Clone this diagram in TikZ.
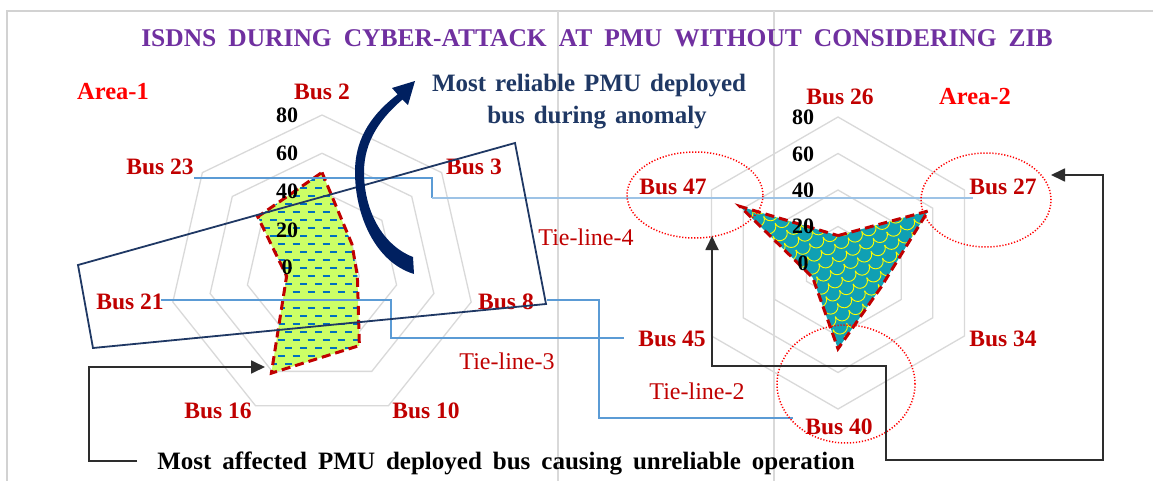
\documentclass[tikz,border=0pt]{standalone}
\usepackage{fontspec}
\setmainfont{Liberation Serif}
\usetikzlibrary{arrows.meta,shapes.geometric}
\definecolor{busred}{RGB}{192,0,0}
\definecolor{areared}{RGB}{255,0,0}
\definecolor{titlepurple}{RGB}{112,48,160}
\definecolor{notenavy}{RGB}{31,56,100}
\definecolor{arrownavy}{RGB}{0,32,96}
\definecolor{boxnavy}{RGB}{31,56,100}
\definecolor{gridgray}{RGB}{217,217,217}
\definecolor{framegray}{RGB}{210,210,210}
\definecolor{tieblue}{RGB}{91,155,213}
\definecolor{tielight}{RGB}{157,195,230}
\definecolor{limefill}{RGB}{204,255,102}
\definecolor{dashblue}{RGB}{0,112,192}
\definecolor{tealfill}{RGB}{16,160,180}
\definecolor{scaleyellow}{RGB}{255,255,0}
\definecolor{conngray}{RGB}{45,45,45}
\newcommand{\mygap}{\hspace{9pt}}
\newcommand{\tgap}{\hspace{12pt}}
\begin{document}
\begin{tikzpicture}[x=1pt,y=-1pt,
  buslbl/.style={text=busred,font=\fontsize{23.5}{26}\selectfont\bfseries,inner sep=0pt},
  arealbl/.style={text=areared,font=\fontsize{24.5}{27}\selectfont\bfseries,inner sep=0pt},
  tielbl/.style={text=busred,font=\fontsize{24}{27}\selectfont,inner sep=0pt},
  axlbl/.style={font=\fontsize{22}{24}\selectfont\bfseries,inner sep=0pt},
  notelbl/.style={font=\fontsize{25}{28}\selectfont\bfseries,inner sep=0pt,anchor=base},
  radargrid/.style={draw=gridgray,line width=1.3pt},
  seriesedge/.style={draw=busred,line width=3pt,dash pattern=on 9pt off 5pt},
  tieline/.style={draw=tieblue,line width=1.6pt},
  hilite/.style={draw=red,ellipse,line width=1.5pt,dash pattern=on 1.2pt off 1.8pt,inner sep=0pt},
  conn/.style={draw=conngray,line width=1.8pt},
  conntip/.tip={Triangle[length=14pt,width=13pt]}
]
\useasboundingbox (0,0) rectangle (1153,481);
\fill[white] (0,0) rectangle (1153,481);
% frame
\draw[framegray,line width=1.5pt] (7,481) -- (7,11) -- (1153,11);
\draw[gridgray,line width=1.3pt] (558,11) -- (558,481);
\draw[gridgray,line width=1.3pt] (774,11) -- (774,481);

% left radar grid (7 axes)
\begin{scope}[shift={(322,268)}]
  \foreach \k in {1,2,3,4}{
    \draw[radargrid] (-90:{38.25*\k}) \foreach \a in {1,...,6}{ -- ({-90+\a*360/7}:{38.25*\k}) } -- cycle;
  }
  \coordinate (L0) at (-90:95.6);
  \coordinate (L1) at ({-90+1*360/7}:38.3);
  \coordinate (L2) at ({-90+2*360/7}:36.3);
  \coordinate (L3) at ({-90+3*360/7}:86.1);
  \coordinate (L4) at ({-90+4*360/7}:116.7);
  \coordinate (L5) at ({-90+5*360/7}:36.3);
  \coordinate (L6) at ({-90+6*360/7}:82.2);
\end{scope}

% right radar grid (6 axes)
\begin{scope}[shift={(838,263)}]
  \foreach \k in {1,2,3,4}{
    \draw[radargrid] (-90:{36.5*\k}) \foreach \a in {1,...,5}{ -- ({-90+60*\a}:{36.5*\k}) } -- cycle;
  }
  \coordinate (R0) at (-90:27.4);
  \coordinate (R1) at (-30:104);
  \coordinate (R2) at (30:49.3);
  \coordinate (R3) at (90:85.8);
  \coordinate (R4) at (150:29.2);
  \coordinate (R5) at (210:113.2);
\end{scope}

% left series with dash pattern
\begin{scope}
  \clip (L0)--(L1)--(L2)--(L3)--(L4)--(L5)--(L6)--cycle;
  \fill[limefill] (240,160) rectangle (380,390);
  \foreach \j in {0,...,27}{
    \foreach \i in {0,...,10}{
      \pgfmathsetmacro{\xx}{240+15*\i+7.5*mod(\j,2)}
      \pgfmathsetmacro{\yy}{172+8*\j}
      \draw[dashblue,line width=1.6pt] (\xx,\yy) -- ++(7,0);
    }
  }
\end{scope}
\draw[seriesedge] (L0)--(L1)--(L2)--(L3)--(L4)--(L5)--(L6)--cycle;

% right series with scale pattern
\begin{scope}
  \clip (R0)--(R1)--(R2)--(R3)--(R4)--(R5)--cycle;
  \fill[tealfill] (730,195) rectangle (940,355);
  \begin{scope}[rotate around={25:(838,280)}]
  \foreach \j in {0,...,17}{
    \foreach \i in {0,...,18}{
      \pgfmathsetmacro{\xx}{700+15*\i+7.5*mod(\j,2)}
      \pgfmathsetmacro{\yy}{180+11*\j}
      \draw[scaleyellow,line width=0.9pt] (\xx,\yy) arc[start angle=180,end angle=0,radius=7.5];
    }
  }
  \end{scope}
\end{scope}
\draw[seriesedge] (R0)--(R1)--(R2)--(R3)--(R4)--(R5)--cycle;

% axis labels
\foreach \v/\yy in {80/115,60/153,40/191,20/230,0/267}{
  \node[axlbl] (la\v) at (287,\yy) {\v};
}
\foreach \v/\yy in {80/117,60/154,40/190,20/226,0/263}{
  \node[axlbl] (ra\v) at (803,\yy) {\v};
}

% labels
\node[buslbl] (b2) at (322,92) {Bus 2};
\node[buslbl] (b3) at (474,167) {Bus 3};
\node[buslbl] (b8) at (506,302) {Bus 8};
\node[buslbl] (b10) at (426,411) {Bus 10};
\node[buslbl] (b16) at (218,411) {Bus 16};
\node[buslbl] (b21) at (130,302) {Bus 21};
\node[buslbl] (b23) at (160,167) {Bus 23};
\node[buslbl] (b26) at (840,97) {Bus 26};
\node[buslbl] (b27) at (1003,187) {Bus 27};
\node[buslbl] (b34) at (1003,339) {Bus 34};
\node[buslbl] (b40) at (839,427) {Bus 40};
\node[buslbl] (b45) at (672,339) {Bus 45};
\node[buslbl] (b47) at (673,187) {Bus 47};
\node[arealbl] (a1) at (113,92) {Area-1};
\node[arealbl] (a2) at (975,97) {Area-2};
\node[tielbl] (t4) at (586,237) {Tie-line-4};
\node[tielbl] (t3) at (507,361) {Tie-line-3};
\node[tielbl] (t2) at (697,391) {Tie-line-2};

% tie-lines
\coordinate (tl4a) at (194,178);
\coordinate (tl4b) at (973,198);
\draw[tieline] (tl4a) -- (432,178) -- (432,198);
\draw[tielight,line width=2.8pt] (432,198) -- (tl4b);
\coordinate (tl3a) at (161,300);
\coordinate (tl3b) at (624,338);
\draw[tieline] (tl3a) -- (391,300) -- (391,338) -- (tl3b);
\coordinate (tl2a) at (547,300);
\coordinate (tl2b) at (793,418);
\draw[tieline] (tl2a) -- (599,300) -- (599,418) -- (tl2b);

% area box
\draw[boxnavy,line width=1.8pt] (78,265) -- (515,143) -- (546,304) -- (93,348) -- cycle;

% curved arrow
\fill[arrownavy] (414,274) .. controls (375,262) and (355,215) .. (355,172)
  .. controls (355,135) and (375,112) .. (397.6,94.4) -- (392,88) -- (415,81) -- (408,105) -- (402.4,99.6)
  .. controls (382,117) and (364,140) .. (364,172)
  .. controls (364,210) and (382,245) .. (413,257) -- cycle;

% notes
\node[notelbl,text=notenavy] (rel1) at (589,92) {Most\mygap reliable\mygap PMU\mygap deployed};
\node[notelbl,text=notenavy] (rel2) at (597,124) {bus\mygap during\mygap anomaly};
\node[notelbl,text=black] (aff) at (506,469) {Most\hspace{11pt}affected\hspace{11pt}PMU\hspace{11pt}deployed\hspace{11pt}bus\hspace{11pt}causing\hspace{11pt}unreliable\hspace{11pt}operation};

% title
\node[anchor=base,inner sep=0pt,text=titlepurple,font=\fontsize{25.5}{28}\selectfont\bfseries] (title) at (597,47)
  {ISDNS\tgap DURING\tgap CYBER-ATTACK\tgap AT\tgap PMU\tgap WITHOUT\tgap CONSIDERING\tgap ZIB};

% highlight ellipses
\node[hilite,minimum width=136pt,minimum height=86pt] (e47) at (695,195) {};
\node[hilite,minimum width=130pt,minimum height=94pt] (e27) at (986,200) {};
\node[hilite,minimum width=138pt,minimum height=118pt] (e40) at (846,384) {};

% connectors
\coordinate (affstart) at (137,461);
\coordinate (p16) at (265,367);
\draw[conn,-conntip] (affstart) -- (89,461) -- (89,367) -- (p16);
\coordinate (p27) at (1051,175);
\coordinate (p47) at (712,236);
\draw[conn,conntip-conntip] (p27) -| (1103,460) -| (886,366) -| (p47);
\end{tikzpicture}
\end{document}
